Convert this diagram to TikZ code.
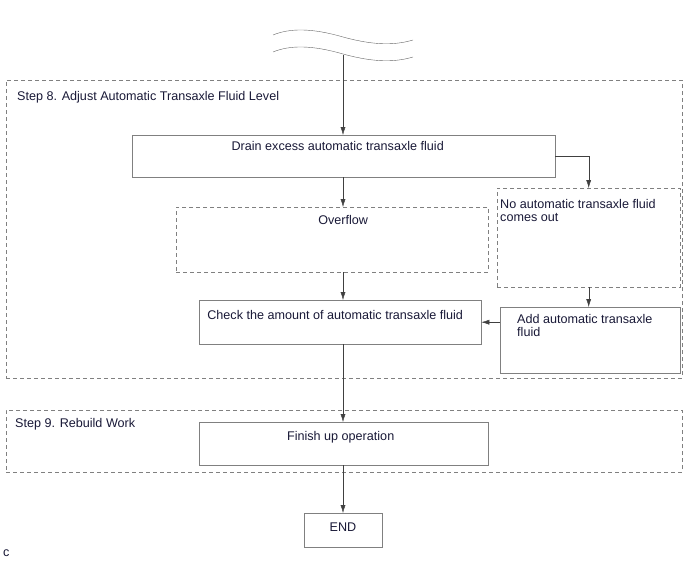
\documentclass[tikz,border=0pt]{standalone}
\usepackage{fontspec}
\setmainfont{Liberation Sans}
\usetikzlibrary{positioning, arrows.meta}
\definecolor{boxcol}{RGB}{128, 128, 128}
\definecolor{txtcol}{RGB}{25, 25, 55}
\tikzset{
  block/.style={draw=boxcol, rectangle, inner sep=0pt, anchor=north west},
  dashblock/.style={block, dash pattern=on 4pt off 3pt},
  txt/.style={font=\fontsize{12.6}{13.5}\selectfont, text=txtcol, inner sep=0pt, align=left},
  flow/.style={-{Latex[length=8pt, width=5pt]}, draw=black!75},
}

\begin{document}
\begin{tikzpicture}[x=1pt, y=-1pt]
  \useasboundingbox (0,0) rectangle (688,560);

  % frames
  \node[dashblock, minimum width=676pt, minimum height=298pt] (step8) at (6,80) {};
  \node[dashblock, minimum width=676pt, minimum height=62pt] (step9) at (6,410) {};
  \node[txt, anchor=north west] (s8lbl) at ([shift={(11pt,-11pt)}]step8.north west) {Step 8. Adjust Automatic Transaxle Fluid Level};
  \node[txt, anchor=north west] (s9lbl) at ([shift={(9pt,-8pt)}]step9.north west) {Step 9. Rebuild Work};

  % boxes
  \node[block, minimum width=423pt, minimum height=42pt] (drain) at (132,135) {};
  \node[dashblock, minimum width=312pt, minimum height=65pt] (over) at (176,207) {};
  \node[dashblock, minimum width=183pt, minimum height=99pt] (noout) at (497,188) {};
  \node[block, minimum width=180pt, minimum height=66pt] (add) at (500,307) {};
  \node[block, minimum width=282pt, minimum height=44pt] (check) at (199,300) {};
  \node[block, minimum width=289pt, minimum height=43pt] (finish) at (199,422) {};
  \node[block, minimum width=78pt, minimum height=34pt, anchor=north] (endb) at (343,513) {};

  \node[txt, below=6pt of drain.north, xshift=-6pt] (draintxt) {Drain excess automatic transaxle fluid};
  \node[txt, below=8pt of over.north, xshift=11pt] (overtxt) {Overflow};
  \node[txt, anchor=north west] (noouttxt) at ([shift={(3pt,-11pt)}]noout.north west) {No automatic transaxle fluid\\comes out};
  \node[txt, anchor=north west] (addtxt) at ([shift={(17pt,-7pt)}]add.north west) {Add automatic transaxle\\fluid};
  \node[txt, below=10pt of check.north, xshift=-5pt] (checktxt) {Check the amount of automatic transaxle fluid};
  \node[txt, below=9pt of finish.north, xshift=-3pt] (finishtxt) {Finish up operation};
  \node[txt, yshift=3pt] (endtxt) at (endb.center) {END};
  \node[txt, anchor=west] (mark) at (3,553) {c};

  % break mark
  \draw[draw=black!60] (273,35) .. controls (290,28) and (312,28) .. (343,37)
                       .. controls (376,46) and (396,45) .. (413,40);
  \draw[draw=black!60] (273,52) .. controls (290,45) and (312,45) .. (343,54)
                       .. controls (376,63) and (396,62) .. (413,57);

  % connectors
  \coordinate (col) at (343,55);
  \draw[flow] (col) -- (col |- drain.north);
  \draw[flow] (col |- drain.south) -- (col |- over.north);
  \draw[flow] (drain.east) -| (noout.north);
  \draw[flow] (noout.south) -- (noout.south |- add.north);
  \draw[flow] (add.west |- check.east) -- (check.east);
  \draw[flow] (col |- over.south) -- (col |- check.north);
  \draw[flow] (col |- check.south) -- (col |- finish.north);
  \draw[flow] (col |- finish.south) -- (endb.north);
\end{tikzpicture}
\end{document}
